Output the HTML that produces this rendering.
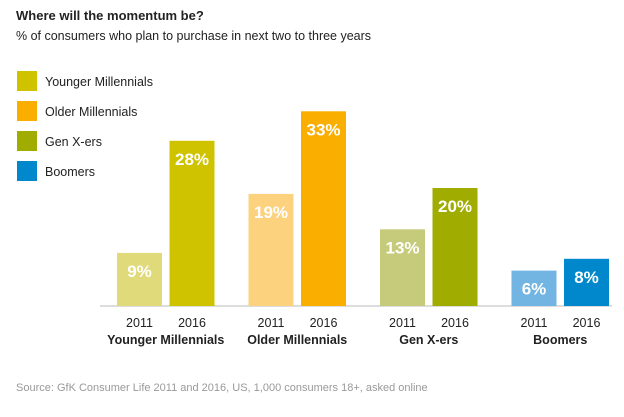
<!DOCTYPE html>
<html><head><meta charset="utf-8"><style>
body{margin:0;width:624px;height:412px;background:#fff;font-family:"Liberation Sans",sans-serif;overflow:hidden}
</style></head><body>
<svg width="624" height="412" xmlns="http://www.w3.org/2000/svg" font-family="Liberation Sans, sans-serif">
<text x="16" y="20" font-size="13" font-weight="bold" fill="#222">Where will the momentum be?</text>
<text x="16" y="40" font-size="12.5" fill="#222">% of consumers who plan to purchase in next two to three years</text>
<g id="legend"></g>
<line x1="100" y1="306" x2="612" y2="306" stroke="#bbb" stroke-width="1"/>
<g id="bars"></g>
<text x="16" y="391" font-size="11" fill="#999">Source: GfK Consumer Life 2011 and 2016, US, 1,000 consumers 18+, asked online</text>
</svg>
<script>
const groups=["Younger Millennials","Older Millennials","Gen X-ers","Boomers"];
const years=["2011","2016"];
const values2011=[9,19,13,6];
const values2016=[28,33,20,8];
const colors2011=["#e0da7a","#fdd27e","#c6cb7c","#72b5e2"];
const colors2016=["#cfc300","#f9ae00","#a0ad00","#0087cc"];
const NS="http://www.w3.org/2000/svg";
const base=306,scale=5.9,bw=45;
const gx=i=>117+i*131.5;
const y=v=>base-v*scale;
const bars=document.getElementById('bars');
function mk(t,a){const e=document.createElementNS(NS,t);for(const k in a)e.setAttribute(k,a[k]);return e;}
groups.forEach((g,i)=>{
 [values2011,values2016].forEach((vals,j)=>{
  const x=gx(i)+j*52.5,v=vals[i];
  const r=mk('rect',{x:x,y:y(v),width:bw,height:base-y(v),fill:(j?colors2016:colors2011)[i]});
  
  
  bars.appendChild(r);
  const t=mk('text',{x:x+bw/2,y:y(v)+24,'text-anchor':'middle','font-size':'17','font-weight':'bold',fill:'#fff'});
  t.textContent=v+'%';
  
  
  bars.appendChild(t);
  const yl=mk('text',{x:x+bw/2,y:327,'text-anchor':'middle','font-size':'12.5',fill:'#222'});
  yl.textContent=years[j];
  
  
  bars.appendChild(yl);
 });
 const gl=mk('text',{x:gx(i)+48.75,y:344,'text-anchor':'middle','font-size':'12.5','font-weight':'bold',fill:'#222'});
 gl.textContent=g;
 
 
 bars.appendChild(gl);
});
const leg=document.getElementById('legend');
const legColors=colors2016;
groups.forEach((g,i)=>{
 const r=mk('rect',{x:17,y:71+i*30,width:20,height:20,fill:legColors[i]});
 
 
 leg.appendChild(r);
 const t=mk('text',{x:45,y:86+i*30,'font-size':'12.5',fill:'#222'});
 t.textContent=g;
 
 
 leg.appendChild(t);
});
</script>
</body></html>
